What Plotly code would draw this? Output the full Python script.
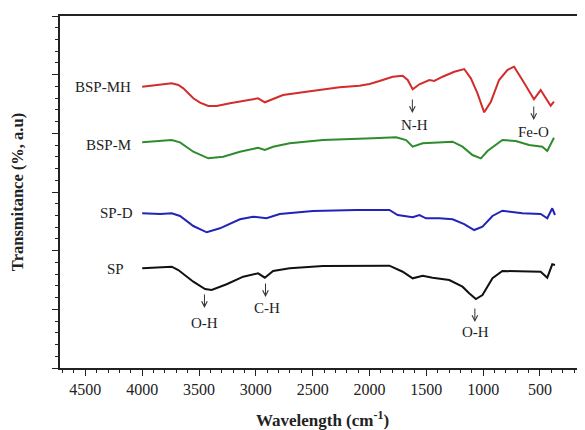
import plotly.graph_objects as go

# Wavenumber (cm^-1) and transmittance (a.u., vertically offset) values
mh_x = [4000, 3842, 3740, 3682, 3638, 3550, 3491, 3418, 3345, 3228, 3111, 2980, 2921, 2848, 2761, 2555,
        2263, 2088, 2000, 1912, 1796, 1708, 1664, 1620, 1561, 1474, 1430, 1357, 1254, 1167, 1108, 1050,
        991, 932, 860, 787, 728, 655, 553, 494, 450, 406, 377]
mh_y = [4.795, 4.824, 4.853, 4.824, 4.767, 4.597, 4.522, 4.466, 4.466, 4.512, 4.556, 4.597, 4.529, 4.580, 4.653, 4.709,
        4.784, 4.812, 4.841, 4.892, 4.965, 4.982, 4.909, 4.750, 4.836, 4.909, 4.892, 4.965, 5.050, 5.096, 4.938, 4.682,
        4.358, 4.539, 4.909, 5.079, 5.136, 4.909, 4.580, 4.738, 4.597, 4.471, 4.539]

m_x = [4000, 3842, 3740, 3667, 3550, 3418, 3287, 3140, 2980, 2921, 2848, 2702, 2410, 1971, 1766, 1678,
       1620, 1532, 1386, 1269, 1182, 1094, 1020, 962, 831, 713, 596, 480, 436, 377]
m_y = [3.847, 3.869, 3.886, 3.847, 3.687, 3.574, 3.602, 3.687, 3.755, 3.716, 3.772, 3.830, 3.886, 3.915, 3.932, 3.886,
       3.772, 3.830, 3.847, 3.857, 3.772, 3.630, 3.574, 3.699, 3.886, 3.869, 3.801, 3.772, 3.699, 3.925]

d_x = [4000, 3842, 3740, 3667, 3550, 3432, 3316, 3140, 3024, 2906, 2790, 2497, 2117, 1825, 1752, 1620,
       1561, 1503, 1386, 1269, 1167, 1079, 1006, 918, 831, 655, 494, 436, 392, 368]
d_y = [2.637, 2.625, 2.637, 2.591, 2.420, 2.313, 2.381, 2.535, 2.579, 2.552, 2.625, 2.676, 2.693, 2.693, 2.608, 2.569,
       2.608, 2.552, 2.552, 2.535, 2.454, 2.352, 2.408, 2.591, 2.681, 2.637, 2.625, 2.552, 2.722, 2.608]

sp_x = [4000, 3813, 3740, 3682, 3550, 3447, 3389, 3257, 3111, 2980, 2921, 2848, 2702, 2410, 1825, 1708,
        1620, 1532, 1445, 1298, 1182, 1123, 1064, 1006, 918, 831, 655, 494, 436, 392, 368]
sp_y = [1.699, 1.710, 1.727, 1.670, 1.471, 1.347, 1.329, 1.427, 1.556, 1.614, 1.539, 1.653, 1.699, 1.739, 1.744, 1.641,
        1.529, 1.573, 1.539, 1.500, 1.386, 1.273, 1.176, 1.244, 1.529, 1.653, 1.641, 1.641, 1.539, 1.768, 1.756]

series_names = ["BSP-MH", "BSP-M", "SP-D", "SP"]
series_colors = ["#d42b2b", "#2e8b2e", "#2323b8", "#111111"]
label_x = [4083, 4083, 4067, 4140]
label_y = [4.784, 3.801, 2.637, 1.687]

peak_names = ["O-H", "C-H", "O-H", "N-H", "Fe-O"]
peak_x = [3452, 2915, 1073, 1623, 555]
arrow_head_y = [1.023, 1.210, 0.784, 4.346, 4.227]
peak_text_x = [3452, 2899, 1066, 1605, 558]
peak_text_y = [0.767, 1.017, 0.619, 4.142, 4.017]

xs = [mh_x, m_x, d_x, sp_x]
ys = [mh_y, m_y, d_y, sp_y]

font_family = "Liberation Serif, Times New Roman, serif"
fig = go.Figure()
for x, y, n, c in zip(xs, ys, series_names, series_colors):
    fig.add_trace(go.Scatter(x=x, y=y, mode="lines", name=n,
                             line=dict(color=c, width=2), showlegend=False))

for n, lx, ly in zip(series_names, label_x, label_y):
    fig.add_annotation(x=lx, y=ly, text=n, showarrow=False, xanchor="right",
                       yanchor="middle", font=dict(family=font_family, size=15, color="#222"))

for px, hy in zip(peak_x, arrow_head_y):
    fig.add_annotation(x=px, y=hy, text="", showarrow=True, ax=0, ay=-15,
                       arrowhead=5, arrowsize=1.1, arrowwidth=1, arrowcolor="#333")

for n, tx, ty in zip(peak_names, peak_text_x, peak_text_y):
    fig.add_annotation(x=tx, y=ty, text=n, showarrow=False, yanchor="middle",
                       font=dict(family=font_family, size=15, color="#222"))

# the page body adds an 8px offset, so the figure is sized to end at the window edge
fig.update_layout(
    width=577, height=422,
    margin=dict(l=52, r=0, t=8, b=62),
    paper_bgcolor="white", plot_bgcolor="white",
    font=dict(family=font_family, color="#222"),
    xaxis=dict(range=[4723, 104], tickmode="array", automargin=False,
               tickvals=[4500, 4000, 3500, 3000, 2500, 2000, 1500, 1000, 500],
               ticks="outside", ticklen=6, tickwidth=1.2, tickcolor="#222",
               showline=True, linecolor="#222", linewidth=1.5, mirror=True,
               showgrid=False, zeroline=False,
               tickfont=dict(family=font_family, size=16, color="#222"),
               ticklabelstandoff=0,
               minor=dict(dtick=100, tick0=0, ticks="outside", ticklen=3, tickcolor="#222", showgrid=False),
               title=dict(text="<b>Wavelength (cm<sup>-1</sup>)</b>", standoff=23,
                          font=dict(family=font_family, size=17, color="#222"))),
    yaxis=dict(range=[0, 6], dtick=1, tick0=0, ticks="outside", ticklen=6, tickwidth=1.2,
               tickcolor="#222", showticklabels=False, automargin=False,
               showline=True, linecolor="#222", linewidth=1.5, mirror=False,
               showgrid=False, zeroline=False,
               minor=dict(dtick=0.2, ticks="outside", ticklen=3, tickcolor="#222", showgrid=False),
               title=dict(text="<b>Transmitance (%, a.u)</b>", standoff=26,
                          font=dict(family=font_family, size=16.5, color="#222"))),
)

fig.write_html("out.html")
